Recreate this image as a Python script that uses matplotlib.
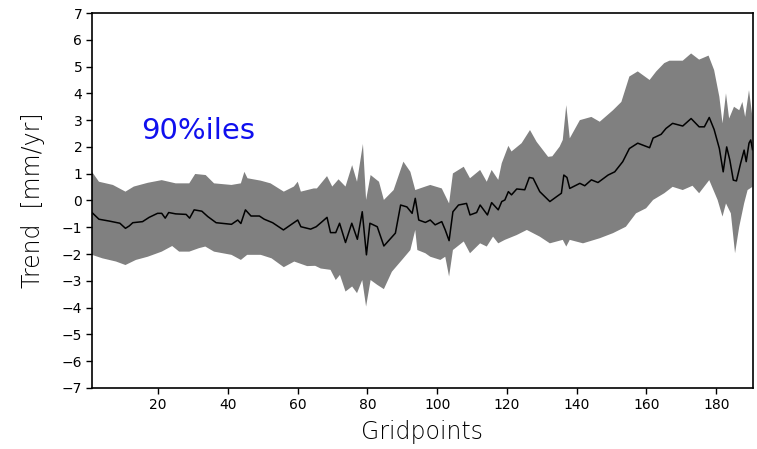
import numpy as np
import matplotlib
matplotlib.use("Agg")
from matplotlib import pyplot as plt

# median trend along the gridpoints
gp_mean = [1, 3, 6, 9, 10.6, 11.7, 12.7, 15.5, 17.4, 19.8, 21, 22, 23, 25, 28, 29, 30.3, 32.5,
           34.2, 36.6, 41, 42.8, 43.7, 45, 46.6, 49, 50.4, 52.8, 55.9, 58, 60, 60.9, 63.7,
           65.3, 67, 68.4, 69.4, 70.9, 72, 73.7, 75.5, 77.1, 78.5, 79.7, 80.7, 82.8, 84.7,
           88, 89.5, 91.3, 92.8, 93.7, 94.7, 96.6, 98, 99.4, 101.3, 102.3, 103.4, 104.5,
           106.1, 108.4, 109.4, 111.3, 112.3, 114.4, 115.6, 117.5, 118.5, 119.4, 120.4,
           121.3, 122.8, 125.1, 126.4, 127.5, 129.4, 132.3, 134.2, 135.6, 136.3, 137.2, 138,
           140.9, 142.3, 144.2, 146.1, 149, 150.9, 153.2, 155.1, 157.5, 160.9, 161.9, 164.2,
           165.6, 167.5, 170.4, 172.8, 175.1, 176.6, 178, 179.4, 180.9, 182, 183, 183.9,
           184.9, 185.8, 187, 188, 188.6, 189.4, 189.9, 190.4]
trend = [-0.45, -0.70, -0.77, -0.85, -1.04, -0.95, -0.83, -0.79, -0.63, -0.48, -0.48, -0.66,
         -0.45, -0.50, -0.52, -0.66, -0.35, -0.40, -0.60, -0.83, -0.89, -0.73, -0.86, -0.35,
         -0.58, -0.58, -0.70, -0.83, -1.10, -0.91, -0.73, -0.98, -1.07, -0.98, -0.79, -0.63,
         -1.20, -1.20, -0.85, -1.57, -0.85, -1.45, -0.42, -2.03, -0.85, -0.98, -1.70, -1.22,
         -0.17, -0.24, -0.48, 0.08, -0.73, -0.82, -0.73, -0.91, -0.79, -1.10, -1.50, -0.42,
         -0.17, -0.11, -0.54, -0.45, -0.17, -0.54, -0.08, -0.35, -0.04, 0.02, 0.33, 0.21,
         0.43, 0.40, 0.86, 0.83, 0.33, -0.04, 0.14, 0.27, 0.95, 0.86, 0.45, 0.64, 0.55, 0.77,
         0.67, 0.95, 1.07, 1.45, 1.94, 2.14, 1.97, 2.33, 2.47, 2.69, 2.88, 2.78, 3.06, 2.75,
         2.75, 3.10, 2.65, 1.94, 1.07, 2.0, 1.51, 0.76, 0.73, 1.39, 1.88, 1.45, 2.14, 2.26,
         1.9]

# upper 90th percentile
gp_upper = [1, 3, 7, 10.6, 13, 17, 21, 25, 28.9, 30.6, 33.6, 36, 41, 43.7, 44.7, 45.6, 49.4,
            52.2, 56, 58.9, 60, 60.9, 64.6, 65.5, 68.4, 69.9, 71.7, 73.7, 75.6, 77, 78.7,
            79.6, 80.9, 83.3, 84.7, 87.5, 90.3, 92.3, 93.7, 96.6, 98, 101.3, 103.4, 104.5,
            107.6, 109.4, 112.3, 114.2, 115.6, 117.5, 118.5, 120.4, 121.3, 124.2, 126.6,
            128.5, 131.8, 133, 135.1, 136, 137, 138, 140.9, 144.2, 146.6, 150.4, 152.8,
            155.1, 157.5, 160.9, 162.8, 165.1, 166.6, 170.4, 172.8, 175.1, 177.8, 179.4,
            180.9, 181.8, 182.8, 183.7, 185.1, 186.6, 187.5, 188.3, 189.4, 190.4]
upper = [1.07, 0.70, 0.58, 0.33, 0.52, 0.66, 0.76, 0.64, 0.64, 0.99, 0.95, 0.64, 0.58, 0.64,
         1.07, 0.83, 0.74, 0.64, 0.33, 0.52, 0.70, 0.33, 0.45, 0.45, 0.91, 0.52, 0.79, 0.52,
         1.32, 0.70, 2.11, 0.02, 0.95, 0.70, 0.02, 0.39, 1.45, 1.07, 0.39, 0.52, 0.58, 0.45,
         -0.11, 1.01, 1.26, 0.83, 1.14, 0.70, 1.14, 0.77, 1.39, 2.04, 1.83, 2.14, 2.63, 2.19,
         1.63, 1.65, 2.01, 2.26, 3.56, 2.32, 3.0, 3.12, 2.94, 3.37, 3.68, 4.63, 4.82, 4.50,
         4.82, 5.13, 5.22, 5.22, 5.49, 5.26, 5.41, 4.87, 3.87, 2.88, 4.0, 3.06, 3.50, 3.37,
         3.68, 3.12, 4.12, 3.1]

# lower 10th percentile
gp_lower = [1, 4, 7.9, 10.6, 13.6, 17, 21, 24, 26, 28.9, 31.7, 33.5, 36, 41, 43.7, 45.5,
            49.4, 52.5, 56, 59, 62.7, 65, 66.6, 69.4, 70.9, 72.1, 73.7, 75.6, 77, 78.5, 79.6,
            80.9, 82.8, 84.7, 87, 89.9, 92.3, 93.7, 94.3, 96.6, 98, 100.9, 102.3, 103.4,
            104.5, 107.6, 109.4, 112.3, 114.2, 116, 117.5, 119.4, 122.8, 125.7, 129.4, 132.3,
            136, 137, 138, 141.8, 146.6, 150.4, 154.1, 157, 159.9, 161.9, 165.1, 167.5,
            170.4, 173.2, 175.1, 178, 180.4, 181.8, 182.8, 184.2, 185.4, 186.6, 188, 189,
            190.4]
lower = [-2.03, -2.16, -2.28, -2.41, -2.22, -2.10, -1.91, -1.70, -1.91, -1.91, -1.78, -1.72,
         -1.91, -2.03, -2.22, -2.03, -2.03, -2.16, -2.49, -2.28, -2.45, -2.44, -2.54, -2.59,
         -2.97, -2.78, -3.40, -3.21, -3.46, -2.97, -3.96, -2.97, -3.15, -3.31, -2.66, -2.22,
         -1.85, -1.10, -1.85, -1.97, -2.10, -2.22, -2.10, -2.84, -1.85, -1.53, -1.97, -1.60,
         -1.72, -1.35, -1.60, -1.47, -1.29, -1.10, -1.35, -1.60, -1.47, -1.72, -1.47, -1.60,
         -1.41, -1.22, -0.98, -0.48, -0.29, 0.02, 0.27, 0.51, 0.39, 0.55, 0.27, 0.76, 0.02,
         -0.60, -0.11, -0.48, -1.97, -0.98, -0.11, 0.39, 0.51]

yticks = list(range(-7, 8))
xticks = list(range(20, 181, 20))

fig = plt.figure(figsize=(7.57, 4.49), dpi=100)
ax = fig.add_axes([0.1215, 0.136, 0.873, 0.835])

# band: upper edge left to right, then lower edge back
band_x = np.r_[gp_upper, gp_lower[::-1]]
band_y = np.r_[upper, lower[::-1]]
ax.fill(band_x, band_y, color="#808080", lw=0)
ax.plot(gp_mean, trend, color="black", lw=1.1)

ax.set_xlim(1, 190.5)
ax.set_ylim(-7, 7)
ax.set_yticks(yticks)
ax.set_yticklabels([str(t).replace("-", "\u2212") for t in yticks])
ax.set_xticks(xticks)
ax.tick_params(direction="out", length=4, width=1, labelsize=10, pad=3)
for s in ax.spines.values():
    s.set_linewidth(1.2)

ax.set_xlabel("Gridpoints", fontsize=17, fontweight="light", labelpad=6)
ax.set_ylabel("Trend  [mm/yr]", fontsize=17, fontweight="light", labelpad=12)

ax.text(15, 2.6, "90%iles", color="#1010ee", fontsize=21, va="center", ha="left")

fig.savefig("out.png", dpi=100)
